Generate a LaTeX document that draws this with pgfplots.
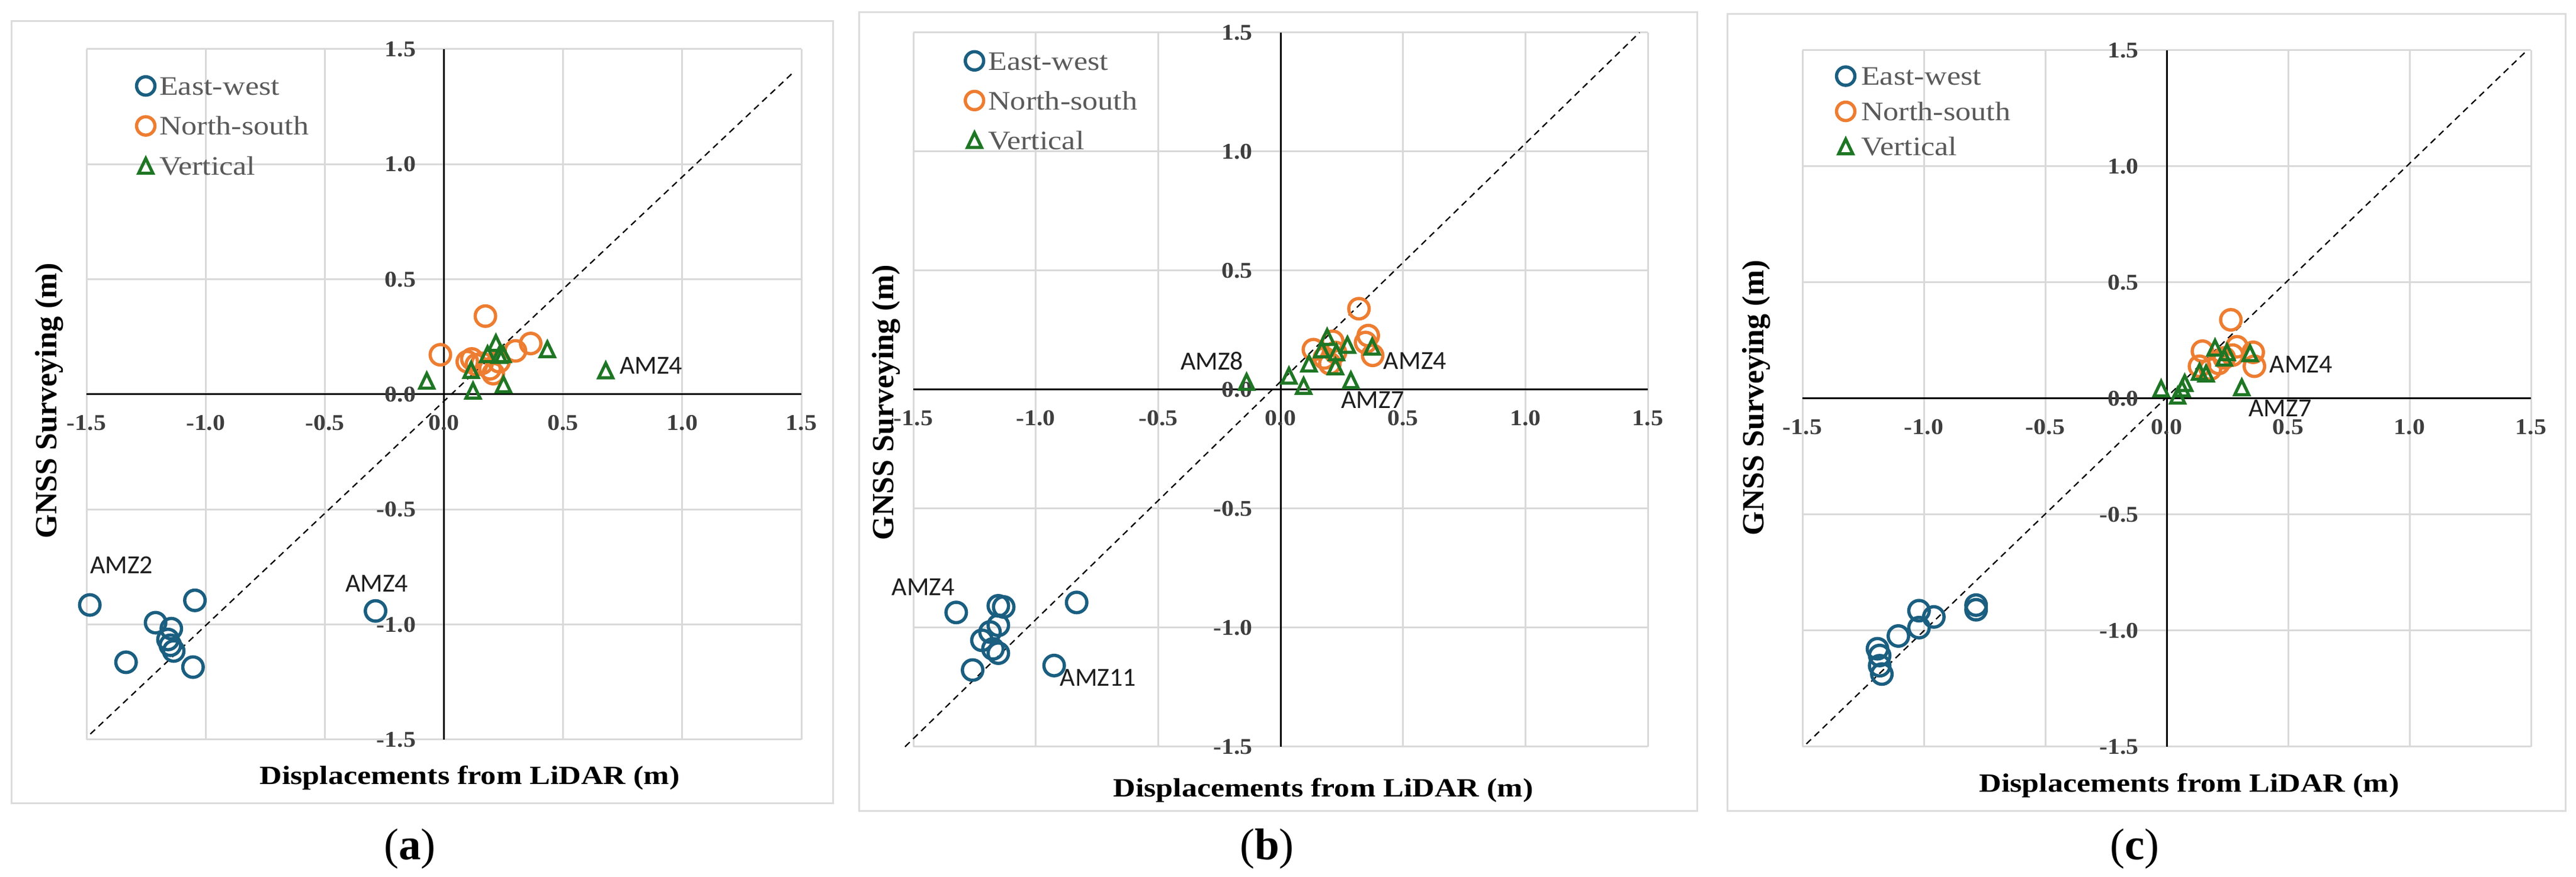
\documentclass[border=0pt]{standalone}
\usepackage{fontspec}
\setmainfont{Liberation Serif}
\newfontfamily\lblfont{Carlito}
\usepackage{graphicx}
\usepackage{pgfplots}
\pgfplotsset{compat=1.18}
\newcommand\tkl[1]{\scalebox{1.1}[1]{#1}}
\newcommand\lgt[1]{\scalebox{1.16}[1]{#1}}
\newcommand\xlb[1]{\scalebox{1.17}[1]{#1}}
\definecolor{ewblue}{RGB}{26,94,128}
\definecolor{nsorange}{RGB}{237,125,49}
\definecolor{vgreen}{RGB}{30,118,36}
\definecolor{gridgray}{RGB}{217,217,217}
\definecolor{framegray}{RGB}{220,220,220}
\definecolor{tickgray}{RGB}{62,62,62}
\definecolor{leggray}{RGB}{90,90,90}
\definecolor{lblblack}{RGB}{30,30,30}
\tikzset{amz/.style={font=\lblfont\fontsize{8.8}{10}\selectfont, text=lblblack, inner sep=0pt}}
\pgfplotsset{
  panel/.style={
    scale only axis, anchor=south west,
    xmin=-1.5, xmax=1.5, ymin=-1.5, ymax=1.5,
    enlargelimits=false, clip=false,
    axis lines=middle,
    axis line style={-, black, line width=0.6pt},
    xtick={-1.5,-1,-0.5,0,0.5,1,1.5},
    ytick={-1.5,-1,-0.5,0,0.5,1,1.5},
    xticklabels={\tkl{-1.5},\tkl{-1.0},\tkl{-0.5},\tkl{0.0},\tkl{0.5},\tkl{1.0},\tkl{1.5}},
    yticklabels={\tkl{-1.5},\tkl{-1.0},\tkl{-0.5},\tkl{0.0},\tkl{0.5},\tkl{1.0},\tkl{1.5}},
    hide obscured x ticks=false, hide obscured y ticks=false,
    major tick length=0pt,
    grid=major, major grid style={gridgray, line width=0.6pt},
    tick label style={font=\bfseries\fontsize{7.6}{9}\selectfont, text=tickgray},
    xticklabel style={anchor=center, inner sep=0pt, yshift=-9.6pt},
    yticklabel style={anchor=east, inner sep=0pt, xshift=-9.3pt},
    xlabel style={font=\bfseries\fontsize{8.9}{11}\selectfont},
    ylabel style={font=\bfseries\fontsize{10.4}{12}\selectfont},
    xlabel={\xlb{Displacements from LiDAR (m)}},
    ylabel={GNSS Surveying (m)},
    legend cell align=left,
    legend style={draw=none, fill=none, anchor=north west,
      font=\fontsize{9}{11}\selectfont, text=leggray,
      inner sep=0pt, column sep=0.6pt,
      nodes={inner sep=0pt, text height=7.1pt, text depth=2.4pt}},
  },
  ew/.style={only marks, mark=o, mark size=3.45pt, mark options={draw=ewblue, line width=1.1pt},
    legend image code/.code={\path[draw=none, fill=none] (-4pt,-4.75pt) rectangle (4pt,4.75pt); \draw[##1, mark size=3.1pt] plot coordinates {(0pt,0.7pt)};}},
  ns/.style={only marks, mark=o, mark size=3.45pt, mark options={draw=nsorange, line width=1.1pt},
    legend image code/.code={\path[draw=none, fill=none] (-4pt,-4.75pt) rectangle (4pt,4.75pt); \draw[##1, mark size=3.1pt] plot coordinates {(0pt,0.7pt)};}},
  vt/.style={only marks, mark=triangle, mark size=2.75pt, mark options={draw=vgreen, line width=1.05pt, yscale=1.2},
    legend image code/.code={\path[draw=none, fill=none] (-4pt,-4.75pt) rectangle (4pt,4.75pt); \draw[##1] plot coordinates {(0pt,-0.1pt)};}},
  oneone/.style={black, line width=0.45pt, dash pattern=on 2.2pt off 1.6pt, mark=none, forget plot},
}
\begin{document}
\begin{tikzpicture}
\path[use as bounding box] (0,0) rectangle (869.8pt,296.2pt);
% frames
\draw[framegray, line width=0.6pt] (3.8pt,24.8pt) rectangle (281.2pt,289pt);
\draw[framegray, line width=0.6pt] (290pt,22.2pt) rectangle (573pt,292pt);
\draw[framegray, line width=0.6pt] (583.2pt,22.2pt) rectangle (866.2pt,291.4pt);
\node[font=\fontsize{15}{17}\selectfont] at (138.4pt,9.6pt) {(\textbf{a})};
\node[font=\fontsize{15}{17}\selectfont] at (427.8pt,9.6pt) {(\textbf{b})};
\node[font=\fontsize{15}{17}\selectfont] at (720.8pt,9.6pt) {(\textbf{c})};

% ---------------- (a)
\begin{axis}[panel, at={(29.2pt,46.4pt)}, width=241.4pt, height=233.2pt,
  xlabel style={at={(axis description cs:0.536,-0.055)}, anchor=center},
  ylabel style={at={(axis description cs:-0.052,0.491)}, anchor=center, rotate=90},
  legend style={at={(axis description cs:0.0655,0.9649)}, row sep=4.0pt}]
\addplot[oneone] coordinates {(-1.484,-1.476) (1.468,1.401)};
\addplot[ew] coordinates {(-1.486,-0.915) (-1.045,-0.895) (-1.210,-0.992) (-1.144,-1.018) (-1.158,-1.065) (-1.148,-1.090) (-1.134,-1.115) (-1.334,-1.164) (-1.053,-1.185) (-0.287,-0.941)};
\addlegendentry{\lgt{East-west}}
\addplot[ns] coordinates {(0.174,0.340) (-0.015,0.172) (0.098,0.142) (0.117,0.154) (0.136,0.129) (0.193,0.111) (0.207,0.090) (0.300,0.189) (0.364,0.221) (0.231,0.142) (0.160,0.135)};
\addlegendentry{\lgt{North-south}}
\addplot[vt] coordinates {(-0.072,0.048) (0.122,0.005) (0.114,0.095) (0.250,0.032) (0.434,0.185) (0.679,0.093) (0.218,0.212) (0.183,0.163) (0.232,0.160) (0.248,0.163)};
\addlegendentry{\lgt{Vertical}}
\node[amz] at (axis cs:-1.353,-0.741) {AMZ2};
\node[amz] at (axis cs:-0.282,-0.823) {AMZ4};
\node[amz] at (axis cs:0.869,0.124) {AMZ4};
\end{axis}

% ---------------- (b)
\begin{axis}[panel, at={(308.4pt,44pt)}, width=248pt, height=241.2pt,
  xlabel style={at={(axis description cs:0.558,-0.061)}, anchor=center},
  ylabel style={at={(axis description cs:-0.037,0.482)}, anchor=center, rotate=90},
  legend style={at={(axis description cs:0.0663,0.978)}, row sep=3.9pt}]
\addplot[oneone] coordinates {(-1.534,-1.5) (1.466,1.5)};
\addplot[ew] coordinates {(-1.325,-0.936) (-1.153,-0.908) (-1.131,-0.913) (-0.833,-0.894) (-1.153,-0.990) (-1.187,-1.018) (-1.220,-1.053) (-1.175,-1.089) (-1.153,-1.107) (-1.258,-1.178) (-0.925,-1.159)};
\addlegendentry{\lgt{East-west}}
\addplot[ns] coordinates {(0.320,0.340) (0.134,0.168) (0.213,0.203) (0.358,0.227) (0.376,0.144) (0.179,0.133) (0.201,0.109) (0.224,0.156) (0.347,0.198)};
\addlegendentry{\lgt{North-south}}
\addplot[vt] coordinates {(-0.139,0.022) (0.034,0.048) (0.094,0.005) (0.116,0.099) (0.190,0.210) (0.168,0.158) (0.228,0.146) (0.224,0.087) (0.273,0.177) (0.374,0.170) (0.287,0.029)};
\addlegendentry{\lgt{Vertical}}
\node[amz] at (axis cs:-1.460,-0.830) {AMZ4};
\node[amz] at (axis cs:-0.746,-1.209) {AMZ11};
\node[amz] at (axis cs:-0.280,0.121) {AMZ8};
\node[amz] at (axis cs:0.549,0.121) {AMZ4};
\node[amz] at (axis cs:0.376,-0.043) {AMZ7};
\end{axis}

% ---------------- (c)
\begin{axis}[panel, at={(608.6pt,44pt)}, width=246pt, height=235.2pt,
  xlabel style={at={(axis description cs:0.531,-0.056)}, anchor=center},
  ylabel style={at={(axis description cs:-0.063,0.501)}, anchor=center, rotate=90},
  legend style={at={(axis description cs:0.0423,0.981)}, row sep=2.4pt, column sep=1.2pt}]
\addplot[oneone] coordinates {(-1.484,-1.488) (1.484,1.5)};
\addplot[ew] coordinates {(-0.785,-0.890) (-0.785,-0.910) (-1.020,-0.914) (-0.959,-0.941) (-1.020,-0.987) (-1.105,-1.023) (-1.191,-1.078) (-1.182,-1.107) (-1.182,-1.151) (-1.173,-1.187)};
\addlegendentry{\lgt{East-west}}
\addplot[ns] coordinates {(0.264,0.339) (0.147,0.204) (0.289,0.223) (0.356,0.199) (0.361,0.139) (0.135,0.139) (0.180,0.127) (0.214,0.151) (0.237,0.175) (0.271,0.187)};
\addlegendentry{\lgt{North-south}}
\addplot[vt] coordinates {(-0.023,0.032) (0.045,0.001) (0.063,0.032) (0.074,0.056) (0.135,0.104) (0.162,0.097) (0.199,0.208) (0.237,0.165) (0.248,0.189) (0.343,0.184) (0.309,0.037)};
\addlegendentry{\lgt{Vertical}}
\node[amz] at (axis cs:0.553,0.146) {AMZ4};
\node[amz] at (axis cs:0.467,-0.042) {AMZ7};
\end{axis}
\end{tikzpicture}
\end{document}
